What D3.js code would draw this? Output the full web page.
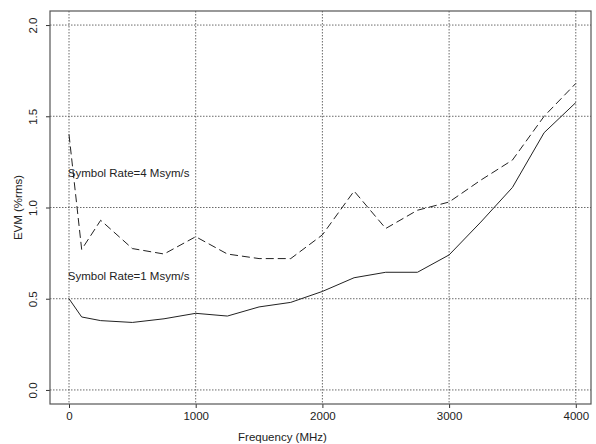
<!DOCTYPE html>
<html>
<head>
<meta charset="utf-8">
<script src="https://cdn.jsdelivr.net/npm/d3@7"></script>
<style>
  body { margin: 0; background: #fff; }
  svg { display: block; }
</style>
</head>
<body>
<div id="chart"></div>
<script>
// Données
const freqs = [0, 100, 250, 500, 750, 1000, 1250, 1500, 1750, 2000, 2250, 2500, 2750, 3000, 3250, 3500, 3750, 4000];
const evm1 = [0.50, 0.40, 0.38, 0.37, 0.39, 0.42, 0.405, 0.455, 0.48, 0.54, 0.615, 0.645, 0.645, 0.74, 0.92, 1.11, 1.41, 1.575];
const evm4 = [1.40, 0.77, 0.93, 0.775, 0.745, 0.84, 0.745, 0.72, 0.72, 0.85, 1.09, 0.885, 0.985, 1.03, 1.15, 1.26, 1.50, 1.68];
const xTicks = [0, 1000, 2000, 3000, 4000];
const yTicks = [0.0, 0.5, 1.0, 1.5, 2.0];
const labels = ["Symbol Rate=4 Msym/s", "Symbol Rate=1 Msym/s"];

function drawChart(ID) {
    const width = 596;
    const height = 444;
    const margin = {top: 11, right: 5, bottom: 40, left: 50};
    const font = "'Liberation Sans', Arial, Helvetica, sans-serif";

    const x = d3.scaleLinear().domain([-150, 4120]).range([margin.left, width - margin.right]);
    const y = d3.scaleLinear().domain([-0.077, 2.077]).range([height - margin.bottom, margin.top]);

    const svg = d3.select(ID)
        .append("svg")
        .attr("width", width)
        .attr("height", height)
        .attr("font-family", font);

    // Grille pointillée
    svg.append("g")
        .selectAll("line")
        .data(xTicks)
        .join("line")
        .attr("x1", d => x(d)).attr("x2", d => x(d))
        .attr("y1", margin.top).attr("y2", height - margin.bottom)
        .attr("stroke", "#444").attr("stroke-width", 0.8)
        .attr("stroke-dasharray", "1.5,1.5");

    svg.append("g")
        .selectAll("line")
        .data(yTicks)
        .join("line")
        .attr("y1", d => y(d)).attr("y2", d => y(d))
        .attr("x1", margin.left).attr("x2", width - margin.right)
        .attr("stroke", "#444").attr("stroke-width", 0.8)
        .attr("stroke-dasharray", "1.5,1.5");

    // Axes
    const xAxis = svg.append("g")
        .attr("transform", `translate(0,${height - margin.bottom})`)
        .call(d3.axisBottom(x).tickValues(xTicks).tickSize(4).tickPadding(4).tickFormat(d3.format("d")));
    xAxis.select(".domain").remove();
    xAxis.selectAll("line").attr("stroke", "#333");
    xAxis.selectAll("text").attr("font-size", 11.5).attr("font-family", font).attr("fill", "#222");

    const yAxis = svg.append("g")
        .attr("transform", `translate(${margin.left},0)`)
        .call(d3.axisLeft(y).tickValues(yTicks).tickSize(4).tickFormat(d3.format(".1f")));
    yAxis.select(".domain").remove();
    yAxis.selectAll("line").attr("stroke", "#333");
    yAxis.selectAll("text")
        .attr("font-size", 11.5).attr("font-family", font).attr("fill", "#222")
        .attr("x", 0).attr("y", 0).attr("dy", 0)
        .attr("text-anchor", "middle")
        .attr("transform", "translate(-13,0) rotate(-90)");

    // Cadre
    svg.append("rect")
        .attr("x", margin.left).attr("y", margin.top)
        .attr("width", width - margin.left - margin.right)
        .attr("height", height - margin.top - margin.bottom)
        .attr("fill", "none").attr("stroke", "#555").attr("stroke-width", 1.2);

    // Courbes
    const line = (vals) => d3.line()
        .x((d, i) => x(freqs[i]))
        .y(d => y(d))(vals);

    svg.append("path")
        .attr("d", line(evm1))
        .attr("fill", "none").attr("stroke", "#222").attr("stroke-width", 1);

    svg.append("path")
        .attr("d", line(evm4))
        .attr("fill", "none").attr("stroke", "#222").attr("stroke-width", 1)
        .attr("stroke-dasharray", "8,4");

    // Étiquettes des courbes
    svg.append("text")
        .attr("x", x(-10)).attr("y", y(1.165))
        .attr("font-size", 11.5).attr("fill", "#222")
        .text(labels[0]);
    svg.append("text")
        .attr("x", x(-10)).attr("y", y(0.605))
        .attr("font-size", 11.5).attr("fill", "#222")
        .text(labels[1]);

    // Titres des axes
    svg.append("text")
        .attr("x", (margin.left + width - margin.right) / 2 - 38)
        .attr("y", 441)
        .attr("text-anchor", "middle")
        .attr("font-size", 11.5).attr("fill", "#222")
        .text("Frequency (MHz)");

    svg.append("text")
        .attr("transform", `translate(22,${(margin.top + height - margin.bottom) / 2}) rotate(-90)`)
        .attr("text-anchor", "middle")
        .attr("font-size", 11.5).attr("fill", "#222")
        .text("EVM (%rms)");
}

drawChart("#chart");
</script>
</body>
</html>
